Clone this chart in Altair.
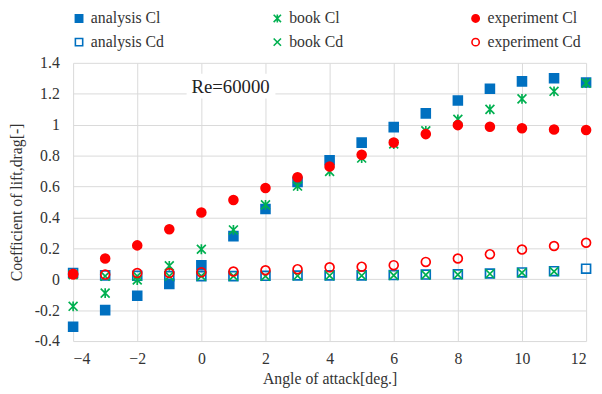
import altair as alt
import pandas as pd

alpha = list(range(-4, 13))

# legend is filled column by column: col1 analysis, col2 book, col3 experiment
series_order = ["analysis Cl", "analysis Cd", "book Cl", "book Cd",
                "experiment Cl", "experiment Cd"]

analysis_cl = [-0.307, -0.20, -0.107, -0.03, 0.09, 0.279, 0.454, 0.63, 0.77,
               0.884, 0.984, 1.073, 1.157, 1.233, 1.28, 1.301, 1.273]
analysis_cd = [0.04, 0.025, 0.022, 0.02, 0.02, 0.02, 0.022, 0.024, 0.025,
               0.025, 0.027, 0.03, 0.032, 0.037, 0.044, 0.052, 0.068]
book_cl = [-0.175, -0.09, -0.005, 0.087, 0.194, 0.319, 0.481, 0.603, 0.698,
           0.784, 0.875, 0.96, 1.035, 1.099, 1.167, 1.216, 1.269]
book_cd = [0.03, 0.02, 0.02, 0.02, 0.02, 0.02, 0.02, 0.022, 0.023,
           0.023, 0.025, 0.028, 0.03, 0.035, 0.042, 0.05, None]
experiment_cl = [0.035, 0.134, 0.219, 0.323, 0.432, 0.513, 0.59, 0.66, 0.73,
                 0.805, 0.884, 0.939, 0.997, 0.986, 0.977, 0.969, 0.965]
experiment_cd = [0.03, 0.03, 0.04, 0.04, 0.045, 0.05, 0.058, 0.065, 0.077,
                 0.081, 0.091, 0.112, 0.134, 0.162, 0.192, 0.215, 0.236]

x_ticks = [-4, -2, 0, 2, 4, 6, 8, 10, 12]
y_ticks = [-0.4, -0.2, 0, 0.2, 0.4, 0.6, 0.8, 1.0, 1.2, 1.4]

annotation = "Re=60000"

rows = []
for name, vals in [("analysis Cl", analysis_cl), ("analysis Cd", analysis_cd),
                   ("book Cl", book_cl), ("book Cd", book_cd),
                   ("experiment Cl", experiment_cl), ("experiment Cd", experiment_cd)]:
    for a, v in zip(alpha, vals):
        if v is not None:
            rows.append({"alpha": a, "value": v, "series": name, "order": len(rows)})
df = pd.DataFrame(rows)

BLUE = "#0070C0"
GREEN = "#00B050"
RED = "#FF0000"
STAR = "M-1,-1L1,1M-1,1L1,-1M0,-1.1L0,1.1"
XSHAPE = "M-1,-1L1,1M-1,1L1,-1"

fills = [BLUE, "transparent", "transparent", "transparent", RED, "transparent"]
strokes = [BLUE, BLUE, GREEN, GREEN, RED, RED]
shapes = ["square", "square", STAR, XSHAPE, "circle", "circle"]

FONT = "Liberation Serif"
TXT = "#333333"

legend = alt.Legend(
    title=None, orient="none", legendX=-2, legendY=-53, columns=3,
    gridAlign="all", columnPadding=86, rowPadding=8, symbolSize=55,
    symbolStrokeWidth=1.6, labelFont=FONT, labelFontSize=16, labelColor=TXT,
    labelOffset=4, labelLimit=300,
)

xs = alt.Scale(domain=[-4, 12], nice=False, zero=False)
ys = alt.Scale(domain=[-0.4, 1.4], nice=False, zero=False)

x_axis = alt.Axis(values=x_ticks, title="Angle of attack[deg.]",
                  labelPadding=10, titlePadding=4, labelOverlap=False,
                  labelFont=FONT, labelFontSize=16, labelColor=TXT,
                  titleFont=FONT, titleFontSize=16, titleColor=TXT,
                  titleFontWeight="normal", grid=True, gridColor="#d9d9d9",
                  domain=False, ticks=False)
y_axis = alt.Axis(values=y_ticks, title="Coefficient of lift,drag[-]",
                  labelExpr="replace(format(datum.value, '~g'), '\u2212', '-')",
                  labelPadding=14, titlePadding=10, labelOverlap=False,
                  labelFont=FONT, labelFontSize=16, labelColor=TXT,
                  titleFont=FONT, titleFontSize=16, titleColor=TXT,
                  titleFontWeight="normal", grid=True, gridColor="#d9d9d9",
                  domain=False, ticks=False)

points = alt.Chart(df).mark_point(size=81, strokeWidth=1.7, opacity=1).encode(
    x=alt.X("alpha:Q", scale=xs, axis=x_axis),
    y=alt.Y("value:Q", scale=ys, axis=y_axis),
    fill=alt.Fill("series:N", scale=alt.Scale(domain=series_order, range=fills), legend=legend),
    stroke=alt.Stroke("series:N", scale=alt.Scale(domain=series_order, range=strokes), legend=legend),
    shape=alt.Shape("series:N", scale=alt.Scale(domain=series_order, range=shapes), legend=legend),
    order=alt.Order("order:Q"),
)

box_df = pd.DataFrame({"x1": [-0.46], "x2": [2.31], "y1": [1.17], "y2": [1.33]})
box = alt.Chart(box_df).mark_rect(color="white").encode(
    x=alt.X("x1:Q", scale=xs, axis=x_axis), x2="x2:Q",
    y=alt.Y("y1:Q", scale=ys, axis=y_axis), y2="y2:Q",
)

text = alt.Chart(pd.DataFrame({"t": [annotation]})).mark_text(
    font=FONT, fontSize=19, color="#222222"
).encode(
    x=alt.datum(0.91, scale=xs, axis=x_axis),
    y=alt.datum(1.246, scale=ys, axis=y_axis),
    text="t:N",
)

chart = alt.layer(points, box, text).properties(
    width=520, height=282, padding=0
).configure(font=FONT).configure_view(stroke=None)

chart.save("out.html", embed_options={"renderer": "svg", "actions": False})
